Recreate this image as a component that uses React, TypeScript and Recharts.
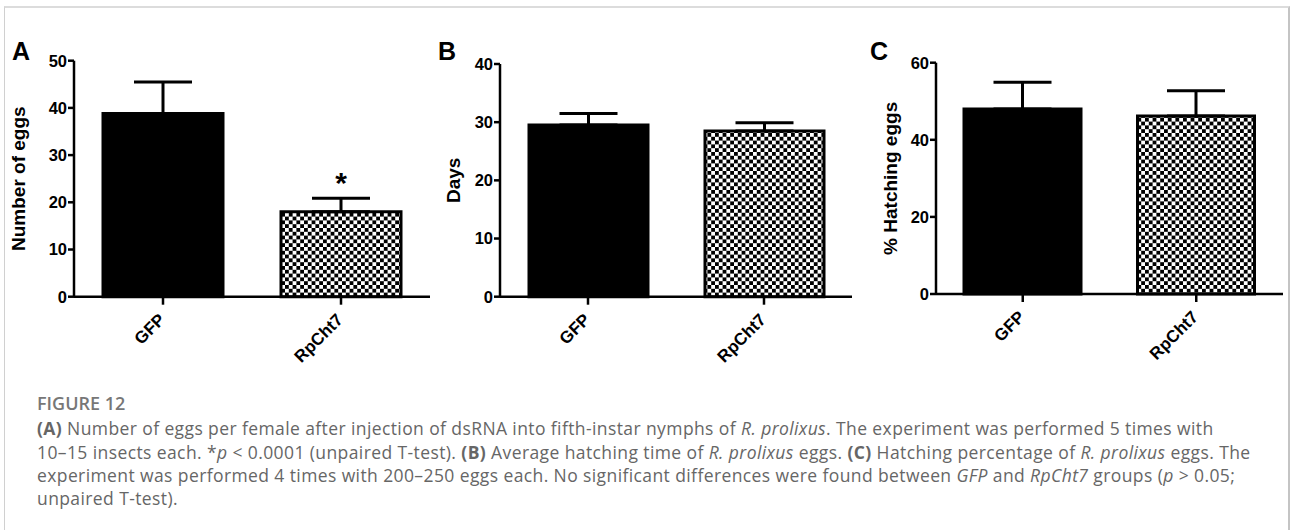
import React from "react";
import { BarChart, Bar, XAxis, YAxis, ErrorBar, Cell, ReferenceDot, Label } from "recharts";

const groups = ["GFP", "RpCht7"];

// A: eggs laid per female
const eggMeans = [38.8, 18.0];
const eggSems = [6.7, 2.85];
const eggMarks = ["", "*"];
const eggTicks = [0, 10, 20, 30, 40, 50];

// B: hatching time in days
const dayMeans = [29.5, 28.5];
const daySems = [2.0, 1.4];
const dayTicks = [0, 10, 20, 30, 40];

// C: hatching percentage
const hatchMeans = [48.0, 46.2];
const hatchSems = [6.9, 6.5];
const hatchTicks = [0, 20, 40, 60];

const AXIS_FONT = "'Liberation Sans', Arial, sans-serif";
const CAPTION_FONT = "'Open Sans', 'Noto Sans', sans-serif";
const CHART_W = 430;
const CHART_H = 380;
const Y_W = 60;
const X_H = 60;

const fills = ["#000", "checker"];

function AngledTick(props: any) {
  const { x, y, payload } = props;
  const ox = x + 3;
  const oy = y + 14;
  return (
    <text
      x={ox}
      y={oy}
      transform={`rotate(-45, ${ox}, ${oy})`}
      textAnchor="end"
      fontFamily={AXIS_FONT}
      fontWeight="bold"
      fontSize={17}
      fill="#000"
    >
      {payload.value}
    </text>
  );
}

type PanelProps = {
  id: string;
  letter: string;
  yLabel: string;
  means: number[];
  sems: number[];
  ticks: number[];
  marks?: string[];
  left: number;
  plotLeft: number;
  plotRight: number;
  plotTop: number;
  plotBottom: number;
  barSize: number;
  letterX: number;
  labelX: number;
};

function Panel(p: PanelProps) {
  const data = groups.map((name, i) => ({
    name,
    mean: p.means[i],
    err: [0, p.sems[i]],
  }));
  const max = p.ticks[p.ticks.length - 1];
  const patternId = `checker-${p.id}`;
  const margin = {
    top: p.plotTop,
    left: p.plotLeft - p.left - Y_W,
    right: p.left + CHART_W - p.plotRight,
    bottom: CHART_H - p.plotBottom - X_H,
  };
  const labelX = p.labelX - p.left;
  const labelY = (p.plotTop + p.plotBottom) / 2;

  return (
    <div style={{ position: "absolute", left: p.left, top: 0 }}>
      <BarChart width={CHART_W} height={CHART_H} data={data} margin={margin}>
        <defs>
          <pattern id={patternId} width="7.6" height="7.6" patternUnits="userSpaceOnUse">
            <rect width="7.6" height="7.6" fill="#fff" />
            <rect width="3.8" height="3.8" fill="#000" />
            <rect x="3.8" y="3.8" width="3.8" height="3.8" fill="#000" />
          </pattern>
        </defs>
        <XAxis
          dataKey="name"
          height={X_H}
          interval={0}
          tickSize={8}
          tickLine={{ stroke: "#000", strokeWidth: 2.5 }}
          axisLine={{ stroke: "#000", strokeWidth: 2.5 }}
          tick={<AngledTick />}
        />
        <YAxis
          type="number"
          width={Y_W}
          domain={[0, max]}
          ticks={p.ticks}
          interval={0}
          tickSize={6}
          tickMargin={1}
          tickLine={{ stroke: "#000", strokeWidth: 2.5 }}
          axisLine={{ stroke: "#000", strokeWidth: 2.5 }}
          tick={{ fill: "#000", fontFamily: AXIS_FONT, fontWeight: "bold", fontSize: 16.5 }}
          label={{
            content: () => (
              <text
                x={labelX}
                y={labelY}
                transform={`rotate(-90, ${labelX}, ${labelY})`}
                textAnchor="middle"
                fontFamily={AXIS_FONT}
                fontWeight="bold"
                fontSize={19}
                fill="#000"
              >
                {p.yLabel}
              </text>
            ),
          }}
        />
        <Bar dataKey="mean" barSize={p.barSize} stroke="#000" strokeWidth={3} isAnimationActive={false}>
          {data.map((d, i) => (
            <Cell key={d.name} fill={fills[i] === "checker" ? `url(#${patternId})` : fills[i]} />
          ))}
          <ErrorBar dataKey="err" width={29} stroke="#000" strokeWidth={3} direction="y" />
        </Bar>
        {p.marks &&
          data.map((d, i) =>
            p.marks![i] ? (
              <ReferenceDot
                key={`mark-${d.name}`}
                x={d.name}
                y={p.means[i] + p.sems[i]}
                r={0}
                fill="none"
                stroke="none"
                label={
                  <Label
                    value={p.marks![i]}
                    position="top"
                    offset={5}
                    fontSize={30}
                    fontWeight="bold"
                    fontFamily={AXIS_FONT}
                    fill="#000"
                  />
                }
              />
            ) : null
          )}
      </BarChart>
      <div
        style={{
          position: "absolute",
          left: p.letterX - p.left,
          top: 37,
          fontFamily: AXIS_FONT,
          fontWeight: "bold",
          fontSize: 25,
          lineHeight: "28px",
          color: "#000",
        }}
      >
        {p.letter}
      </div>
    </div>
  );
}

export default function App() {
  const lineStyle: React.CSSProperties = {
    whiteSpace: "nowrap",
    height: 23.3,
    lineHeight: "23.3px",
  };
  return (
    <div
      style={{
        position: "absolute",
        left: 0,
        top: 0,
        width: 1290,
        height: 530,
        overflow: "hidden",
        background: "#fff",
      }}
    >
      <div
        style={{
          position: "absolute",
          left: 4,
          top: 6,
          width: 1283,
          height: 600,
          borderTop: "2px solid #dcdcdc",
          borderLeft: "1px solid #d0d0d0",
          borderRight: "2px solid #c4c4c4",
        }}
      />
      <Panel
        id="a"
        letter="A"
        yLabel="Number of eggs"
        means={eggMeans}
        sems={eggSems}
        ticks={eggTicks}
        marks={eggMarks}
        left={0}
        plotLeft={74}
        plotRight={430}
        plotTop={60.7}
        plotBottom={296.7}
        barSize={120}
        letterX={12}
        labelX={25}
      />
      <Panel
        id="b"
        letter="B"
        yLabel="Days"
        means={dayMeans}
        sems={daySems}
        ticks={dayTicks}
        left={430}
        plotLeft={500}
        plotRight={852}
        plotTop={64}
        plotBottom={296.7}
        barSize={119}
        letterX={438}
        labelX={460}
      />
      <Panel
        id="c"
        letter="C"
        yLabel="% Hatching eggs"
        means={hatchMeans}
        sems={hatchSems}
        ticks={hatchTicks}
        left={860}
        plotLeft={936}
        plotRight={1283}
        plotTop={62.7}
        plotBottom={294}
        barSize={117}
        letterX={870}
        labelX={897}
      />
      <div
        style={{
          position: "absolute",
          left: 37,
          top: 392,
          fontFamily: CAPTION_FONT,
          fontSize: 17.5,
          letterSpacing: 0.4,
          color: "#666",
        }}
      >
        <div style={{ ...lineStyle, fontSize: 18, letterSpacing: 0, fontWeight: 600, color: "#777", marginBottom: 2 }}>
          FIGURE 12
        </div>
        <div style={lineStyle}>
          <b>(A)</b> Number of eggs per female after injection of dsRNA into fifth-instar nymphs of{" "}
          <i>R. prolixus</i>. The experiment was performed 5 times with
        </div>
        <div style={lineStyle}>
          10–15 insects each. *<i>p</i> &lt; 0.0001 (unpaired T-test). <b>(B)</b> Average hatching time of{" "}
          <i>R. prolixus</i> eggs. <b>(C)</b> Hatching percentage of <i>R. prolixus</i> eggs. The
        </div>
        <div style={lineStyle}>
          experiment was performed 4 times with 200–250 eggs each. No significant differences were found
          between <i>GFP</i> and <i>RpCht7</i> groups (<i>p</i> &gt; 0.05;
        </div>
        <div style={lineStyle}>unpaired T-test).</div>
      </div>
    </div>
  );
}
